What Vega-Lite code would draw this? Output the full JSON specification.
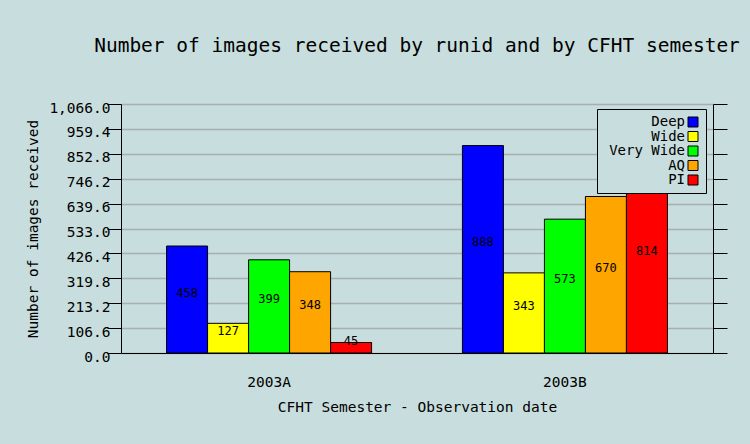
{
  "$schema": "https://vega.github.io/schema/vega-lite/v6.json",
  "width": 592,
  "height": 249,
  "autosize": {"type": "none"},
  "padding": {"left": 121, "top": 104, "right": 37, "bottom": 91},
  "background": "#c8dddd",
  "title": {
    "text": "Number of images received by runid and by CFHT semester",
    "font": "DejaVu Sans Mono",
    "fontSize": 19.5,
    "fontWeight": "normal",
    "color": "black",
    "anchor": "middle",
    "offset": 44
  },
  "config": {
    "view": {"stroke": null},
    "axis": {
      "labelFont": "DejaVu Sans Mono",
      "labelFontSize": 14.5,
      "labelColor": "black",
      "titleFont": "DejaVu Sans Mono",
      "titleFontSize": 14.5,
      "titleFontWeight": "normal",
      "titleColor": "black",
      "domainColor": "black",
      "tickColor": "black"
    }
  },
  "data": {
    "values": [
      {"semester": "2003A", "runid": "Deep", "value": 458},
      {"semester": "2003A", "runid": "Wide", "value": 127},
      {"semester": "2003A", "runid": "Very Wide", "value": 399},
      {"semester": "2003A", "runid": "AQ", "value": 348},
      {"semester": "2003A", "runid": "PI", "value": 45},
      {"semester": "2003B", "runid": "Deep", "value": 888},
      {"semester": "2003B", "runid": "Wide", "value": 343},
      {"semester": "2003B", "runid": "Very Wide", "value": 573},
      {"semester": "2003B", "runid": "AQ", "value": 670},
      {"semester": "2003B", "runid": "PI", "value": 814}
    ]
  },
  "encoding": {
    "x": {
      "field": "semester",
      "type": "nominal",
      "title": "CFHT Semester - Observation date",
      "scale": {"paddingInner": 0.307, "paddingOuter": 0.154},
      "axis": {"labelAngle": 0, "ticks": false, "labelPadding": 22, "titlePadding": 12, "domainColor": "black"}
    },
    "xOffset": {
      "field": "runid",
      "type": "nominal",
      "sort": ["Deep", "Wide", "Very Wide", "AQ", "PI"],
      "scale": {"paddingInner": 0, "paddingOuter": 0}
    }
  },
  "layer": [
    {
      "mark": {"type": "bar", "stroke": "black", "strokeWidth": 1},
      "encoding": {
        "y": {
          "field": "value",
          "type": "quantitative",
          "title": "Number of images received",
          "scale": {"domain": [0, 1066], "nice": false},
          "axis": {
            "values": [0, 106.6, 213.2, 319.8, 426.4, 533, 639.6, 746.2, 852.8, 959.4, 1066],
            "format": ",.1f",
            "tickSize": 14,
            "labelPadding": -3,
            "labelOffset": 4,
            "gridColor": "#a9afaf",
            "gridWidth": 1.5,
            "titlePadding": 8
          }
        },
        "color": {
          "field": "runid",
          "type": "nominal",
          "scale": {
            "domain": ["Deep", "Wide", "Very Wide", "AQ", "PI"],
            "range": ["#0000ff", "#ffff00", "#00ff00", "#ffa500", "#ff0000"]
          },
          "legend": {
            "title": null,
            "orient": "none",
            "legendX": 476,
            "legendY": 5,
            "symbolType": "square",
            "symbolSize": 100,
            "symbolStrokeColor": "black",
            "symbolStrokeWidth": 1,
            "symbolOpacity": 1,
            "symbolOffset": 83,
            "labelFont": "DejaVu Sans Mono",
            "labelFontSize": 14,
            "labelColor": "black",
            "labelAlign": "right",
            "labelOffset": -15,
            "strokeColor": "black",
            "fillColor": "#c8dddd",
            "padding": 6,
            "rowPadding": 0.5
          }
        }
      }
    },
    {
      "mark": {"type": "text", "dy": -7, "baseline": "middle", "font": "DejaVu Sans Mono", "fontSize": 12, "color": "black"},
      "encoding": {
        "y": {"field": "value", "type": "quantitative", "scale": {"domain": [0, 2132], "nice": false}, "axis": null},
        "text": {"field": "value", "type": "quantitative"}
      }
    },
    {
      "mark": {"type": "point", "opacity": 0},
      "encoding": {
        "y": {
          "field": "value",
          "type": "quantitative",
          "scale": {"domain": [0, 1066], "nice": false},
          "axis": {
            "orient": "right",
            "values": [0, 106.6, 213.2, 319.8, 426.4, 533, 639.6, 746.2, 852.8, 959.4, 1066],
            "labels": false,
            "title": null,
            "grid": false,
            "tickSize": 14
          }
        }
      }
    }
  ],
  "resolve": {"scale": {"y": "independent"}}
}
